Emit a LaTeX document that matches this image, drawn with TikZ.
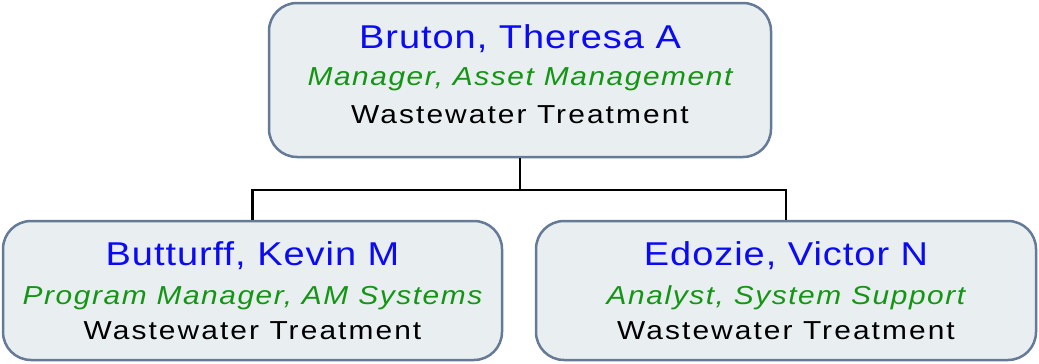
\documentclass[tikz,border=0pt]{standalone}
\usepackage{fontspec}
\newfontfamily\namefont[FakeStretch=1.15,LetterSpace=3]{Liberation Sans}
\newfontfamily\titlefont[FakeStretch=1.15,LetterSpace=6]{Liberation Sans}
\newfontfamily\deptfont[FakeStretch=1.15,LetterSpace=8]{Liberation Sans}
\definecolor{cardfill}{RGB}{233, 238, 241}
\definecolor{cardline}{RGB}{100, 122, 150}
\definecolor{namecol}{RGB}{10, 10, 245}
\definecolor{titlecol}{RGB}{20, 150, 20}

\begin{document}
\begin{tikzpicture}[x=1pt, y=-1pt,
    card/.style={draw=cardline, fill=cardfill, line width=2.5pt, rounded corners=28pt, minimum width=502pt, minimum height=139pt, inner sep=0pt},
    personname/.style={anchor=base, inner sep=0pt, text=namecol, font=\namefont\fontsize{33}{39}\selectfont},
    jobtitle/.style={anchor=base, inner sep=0pt, text=titlecol, font=\titlefont\itshape\fontsize{26}{31}\selectfont},
    dept/.style={anchor=base, inner sep=0pt, text=black, font=\deptfont\fontsize{26}{31}\selectfont},
    link/.style={draw=black, line width=2.3pt}
  ]
    \useasboundingbox (0, 0) rectangle (1039, 364);

    \node[card, minimum height=154pt] (bruton) at (520, 80) {};
    \node[card, minimum width=499pt] (butturff) at (252.5, 290.5) {};
    \node[card, minimum width=500pt] (edozie) at (786, 290.5) {};

    \node[personname] (brutonname) at (520, 48) {Bruton, Theresa A};
    \node[jobtitle] (brutontitle) at (520, 85) {Manager, Asset Management};
    \node[dept] (brutondept) at (520, 123) {Wastewater Treatment};

    \node[personname] (butturffname) at (252.5, 265) {Butturff, Kevin M};
    \node[jobtitle] (butturfftitle) at (252.5, 304) {Program Manager, AM Systems};
    \node[dept] (butturffdept) at (252.5, 339) {Wastewater Treatment};

    \node[personname] (edoziename) at (786, 265) {Edozie, Victor N};
    \node[jobtitle] (edozietitle) at (786, 304) {Analyst, System Support};
    \node[dept] (edoziedept) at (786, 339) {Wastewater Treatment};

    \coordinate (fork) at (520, 190);
    \draw[link] (bruton.south) -- (fork) -| (butturff.north);
    \draw[link] (fork) -| (edozie.north);
  \end{tikzpicture}
\end{document}
